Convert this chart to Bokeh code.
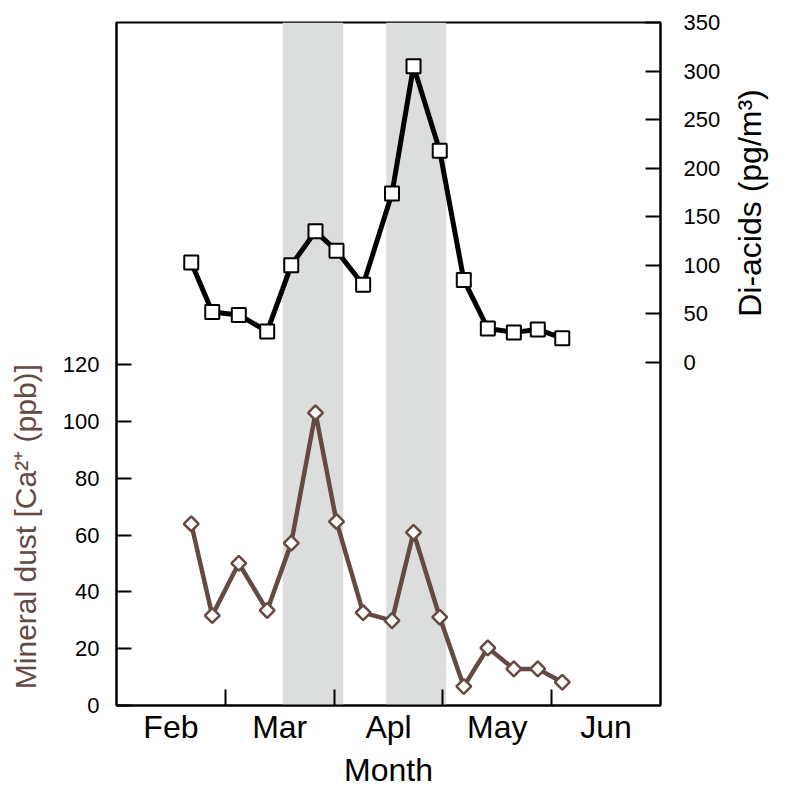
import numpy as np
from bokeh.plotting import figure
from bokeh.models import Range1d, LinearAxis, FixedTicker, BoxAnnotation
from bokeh.embed import file_html
from bokeh.resources import INLINE

# ---- data ----
months = ["Feb", "Mar", "Apl", "May", "Jun"]
month_label_pos = [0.5, 1.5, 2.5, 3.5, 4.5]
month_bounds = [1, 2, 3, 4]
sample_pos = [0.687, 0.880, 1.124, 1.385, 1.606, 1.829, 2.022, 2.267,
              2.532, 2.730, 2.971, 3.192, 3.413, 3.652, 3.872, 4.097]
diacids = [103, 52, 49, 32, 100, 135, 115, 80, 174, 305, 218, 85, 35, 31, 34, 25]
dust = [64.0, 31.7, 50.1, 33.5, 57.2, 103.1, 64.8, 32.7, 29.9, 61.0, 31.1, 6.7, 20.3, 12.9, 12.9, 8.2]
dust_ticks = [0, 20, 40, 60, 80, 100, 120]
diacid_ticks = [0, 50, 100, 150, 200, 250, 300, 350]
bands = [(1.528, 2.084), (2.479, 3.030)]
dust_title = "Mineral dust [Ca²⁺ (ppb)]"
diacid_title = "Di-acids (pg/m³)"
dust_title_at = 63.0     # centre of the left title, in ppb
diacid_title_at = 47.0   # start of the right title, in pg/m3

BROWN = "#654a44"
FONT = "Liberation Sans"

p = figure(width=789, height=790, x_range=Range1d(0, 5), y_range=Range1d(0, 240.6),
           output_backend="svg", toolbar_location=None,
           min_border_left=116, min_border_right=129, min_border_top=22, min_border_bottom=85)
p.extra_y_ranges = {"di": Range1d(-353.1, 350)}
p.xgrid.visible = False
p.ygrid.visible = False
p.outline_line_color = "black"
p.outline_line_width = 2
p.background_fill_color = "white"
p.border_fill_color = "white"

for l, r in bands:
    p.add_layout(BoxAnnotation(left=l, right=r, fill_color="#dcdedd", fill_alpha=1.0,
                               line_alpha=0, level="underlay"))

# bottom axis
xa = p.xaxis[0]
xa.ticker = FixedTicker(ticks=month_label_pos, minor_ticks=month_bounds)
xa.major_label_overrides = {k: m for k, m in zip(month_label_pos, months)}
xa.major_tick_in = 0
xa.major_tick_out = 0
xa.minor_tick_in = 16
xa.minor_tick_out = 0
xa.minor_tick_line_color = "black"
xa.minor_tick_line_width = 2
xa.axis_line_width = 2
xa.major_label_text_font = FONT
xa.major_label_text_font_size = "32px"
xa.major_label_text_color = "black"
xa.major_label_standoff = 3
xa.axis_label = "Month"
xa.axis_label_text_font = FONT
xa.axis_label_text_font_size = "32px"
xa.axis_label_text_font_style = "normal"
xa.axis_label_text_color = "black"
xa.axis_label_standoff = 4

# left axis
ya = p.yaxis[0]
ya.ticker = FixedTicker(ticks=dust_ticks)
ya.major_tick_in = 15
ya.major_tick_out = 0
ya.minor_tick_line_color = None
ya.major_tick_line_width = 2
ya.axis_line_width = 2
ya.major_label_text_font = FONT
ya.major_label_text_font_size = "22px"
ya.major_label_text_color = "black"
ya.major_label_standoff = 17

# left title, drawn as a single tick label of an outer axis
lt = LinearAxis(ticker=FixedTicker(ticks=[dust_title_at]),
                major_label_overrides={dust_title_at: dust_title},
                major_label_orientation="vertical")
lt.axis_line_color = None
lt.major_tick_line_color = None
lt.minor_tick_line_color = None
lt.major_tick_in = 0
lt.major_tick_out = 0
lt.major_label_standoff = 17
lt.major_label_text_font = FONT
lt.major_label_text_font_size = "30px"
lt.major_label_text_color = BROWN
p.add_layout(lt, "left")

# right axis
ra = LinearAxis(y_range_name="di", ticker=FixedTicker(ticks=diacid_ticks))
ra.major_tick_in = 15
ra.major_tick_out = 0
ra.minor_tick_line_color = None
ra.major_tick_line_width = 2
ra.axis_line_width = 2
ra.major_label_text_font = FONT
ra.major_label_text_font_size = "22px"
ra.major_label_text_color = "black"
ra.major_label_standoff = 23
p.add_layout(ra, "right")

# right title, drawn as a single tick label of an outer axis
rt = LinearAxis(y_range_name="di", ticker=FixedTicker(ticks=[diacid_title_at]),
                major_label_overrides={diacid_title_at: diacid_title},
                major_label_orientation=np.pi / 2)
rt.axis_line_color = None
rt.major_tick_line_color = None
rt.minor_tick_line_color = None
rt.major_tick_in = 0
rt.major_tick_out = 0
rt.major_label_standoff = 27
rt.major_label_text_font = FONT
rt.major_label_text_font_size = "32px"
rt.major_label_text_color = "black"
p.add_layout(rt, "right")

# series
p.line(sample_pos, diacids, y_range_name="di", line_color="black", line_width=5)
p.scatter(sample_pos, diacids, y_range_name="di", marker="square", size=14,
          fill_color="white", line_color="black", line_width=2)

p.line(sample_pos, dust, line_color=BROWN, line_width=4.5)
p.scatter(sample_pos, dust, marker="square", angle=np.pi / 4, size=10.5,
          fill_color="white", line_color=BROWN, line_width=2.5)

open("out.html", "w").write(file_html(p, INLINE))
